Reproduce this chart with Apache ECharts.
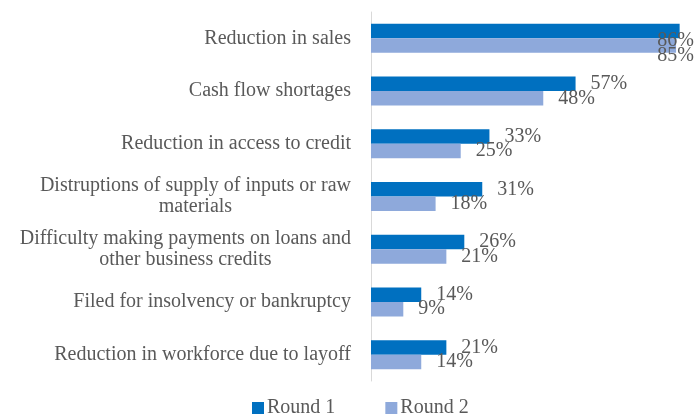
<!DOCTYPE html>
<html>
<head>
<meta charset="utf-8">
<script src="https://cdn.jsdelivr.net/npm/echarts@6/dist/echarts.min.js"></script>
<style>html,body{margin:0;padding:0;background:#fff}#c{width:695px;height:414px}</style>
</head>
<body>
<div id="c"></div>
<script>
var categories = [
  "Reduction in sales",
  "Cash flow shortages",
  "Reduction in access to credit",
  "Distruptions of supply of inputs or raw\nmaterials",
  "Difficulty making payments on loans and\nother business credits",
  "Filed for insolvency or bankruptcy",
  "Reduction in workforce due to layoff"
];
var round1 = [86, 57, 33, 31, 26, 14, 21];
var round2 = [85, 48, 25, 18, 21, 9, 14];
var seriesNames = ["Round 1", "Round 2"];

var FONT = "'Liberation Serif', serif";
var GRAY = "#595959";
var chart = echarts.init(document.getElementById('c'), null, {renderer: 'canvas'});

function lbl() {
  return {
    show: true, position: 'right', distance: 15,
    formatter: '{c}%', color: GRAY, fontFamily: FONT, fontSize: 20
  };
}

chart.setOption({
  animation: false,
  grid: {left: 371, right: 1, top: 12, bottom: 33, containLabel: false},
  legend: {
    top: 393, left: 247, icon: 'rect', itemWidth: 12, itemHeight: 12, itemGap: 50,
    textStyle: {color: GRAY, fontFamily: FONT, fontSize: 20, padding: [0, 0, 0, -2]},
    data: seriesNames
  },
  xAxis: {type: 'value', min: 0, max: 90, show: false, splitLine: {show: false}},
  yAxis: {
    type: 'category', inverse: true, data: categories,
    axisLine: {show: true, lineStyle: {color: '#d9d9d9', width: 1}},
    axisTick: {show: false},
    axisLabel: {
      margin: 20, color: GRAY, fontFamily: FONT, fontSize: 20, lineHeight: 21,
      formatter: function (v) {
        return v.split('\n').map(function (s) { return '{c|' + s + '}'; }).join('\n');
      },
      rich: {c: {align: 'center', color: GRAY, fontFamily: FONT, fontSize: 20, lineHeight: 21}}
    }
  },
  series: [
    {name: seriesNames[0], type: 'bar', data: round1, itemStyle: {color: '#0070C0'},
     barGap: '0%', barCategoryGap: '45%', label: lbl()},
    {name: seriesNames[1], type: 'bar', data: round2, itemStyle: {color: '#8EA9DB'},
     barGap: '0%', barCategoryGap: '45%', label: lbl()}
  ],
  labelLayout: function (p) {
    var r = p.labelRect;
    if (r.x + r.width > 694) {
      return {x: 694 - r.width};
    }
  }
});
</script>
</body>
</html>
